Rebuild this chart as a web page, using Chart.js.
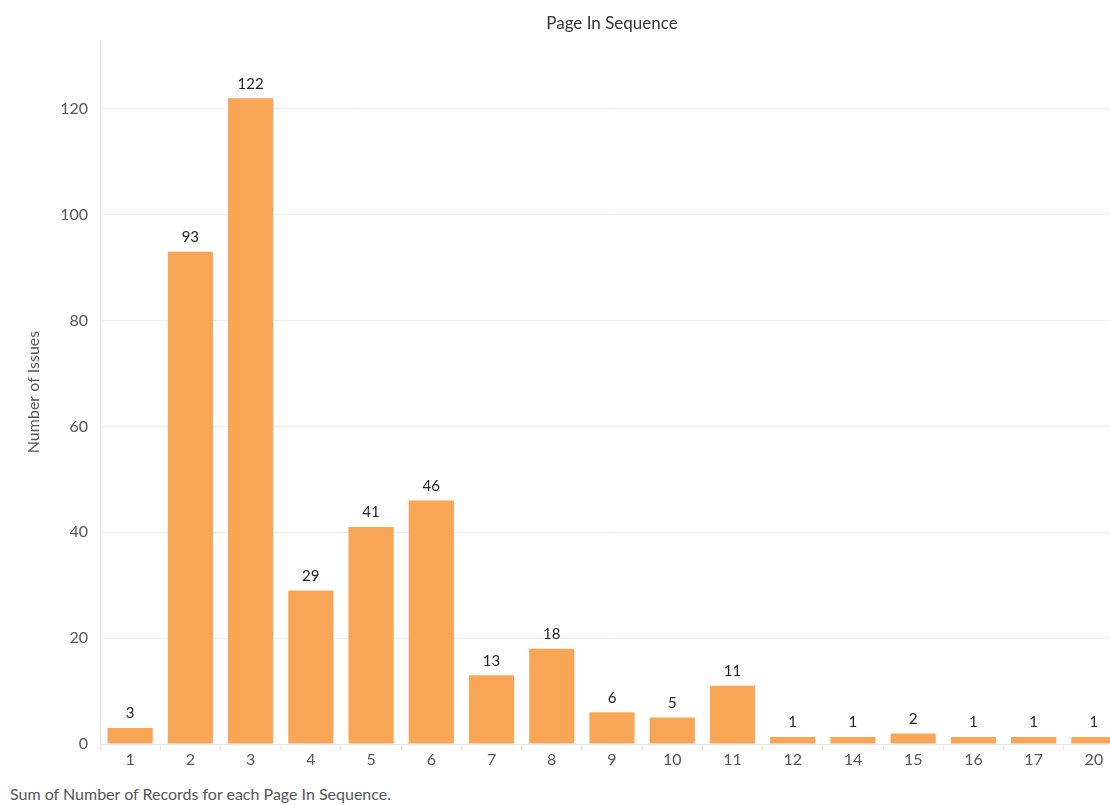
<!DOCTYPE html>
<html>
<head>
<meta charset="utf-8">
<script src="https://cdn.jsdelivr.net/npm/chart.js@4"></script>
<style>
    html, body { margin: 0; padding: 0; background: #fff; overflow: hidden; }
    #wrap { position: relative; width: 1124px; height: 782px; }
    #nota { position: absolute; left: 10px; top: 784px; font: 16px Lato, sans-serif; color: #555; white-space: nowrap; }
</style>
</head>
<body>
<div id="wrap"><canvas id="grafico"></canvas></div>
<div id="nota">Sum of Number of Records for each Page In Sequence.</div>
<script>
// Dados
const pages = ['1', '2', '3', '4', '5', '6', '7', '8', '9', '10', '11', '12', '14', '15', '16', '17', '20'];
const issues = [3, 93, 122, 29, 41, 46, 13, 18, 6, 5, 11, 1, 1, 2, 1, 1, 1];
const yTicks = [0, 20, 40, 60, 80, 100, 120];

const FONT = 'Lato, "Open Sans", sans-serif';

// Título centrado sobre a área do gráfico + valores por cima das barras
const extras = {
    id: 'extras',
    afterDatasetsDraw(chart) {
        const ctx = chart.ctx;
        const area = chart.chartArea;
        ctx.save();
        ctx.fillStyle = '#333';
        ctx.font = '17px ' + FONT;
        ctx.textAlign = 'center';
        ctx.textBaseline = 'middle';
        ctx.fillText('Page In Sequence', (area.left + area.right) / 2, 24);

        ctx.font = '15px ' + FONT;
        ctx.fillStyle = '#222';
        ctx.textBaseline = 'bottom';
        chart.getDatasetMeta(0).data.forEach((bar, i) => {
            ctx.fillText(String(issues[i]), bar.x, bar.y - 7);
        });
        ctx.restore();
    }
};

new Chart(document.getElementById('grafico'), {
    type: 'bar',
    data: {
        labels: pages,
        datasets: [{
            label: 'Number of Issues',
            data: issues,
            backgroundColor: '#f8a655',
            categoryPercentage: 0.75,
            barPercentage: 1,
            minBarLength: 7
        }]
    },
    options: {
        responsive: true,
        maintainAspectRatio: false,
        animation: false,
        layout: { padding: { top: 40, right: 0, bottom: 0, left: 0 } },
        plugins: {
            legend: { display: false },
            tooltip: { enabled: false }
        },
        scales: {
            x: {
                offset: true,
                grid: { display: true, offset: true, drawOnChartArea: false, tickLength: 6, color: '#e6e6e6' },
                border: { color: '#e6e6e6' },
                ticks: { color: '#555', font: { family: FONT, size: 16 }, padding: 0, maxRotation: 0 },
                afterFit(scale) { scale.height = 38; }
            },
            y: {
                min: 0,
                max: 133,
                afterBuildTicks(scale) { scale.ticks = yTicks.map(v => ({ value: v })); },
                grid: { color: '#eeeeee', drawTicks: false },
                border: { color: '#e6e6e6' },
                ticks: { color: '#555', font: { family: FONT, size: 16 }, padding: 12 },
                title: { display: true, text: 'Number of Issues', color: '#555', font: { family: FONT, size: 16 }, padding: { top: 24, bottom: 0 } },
                afterFit(scale) { scale.width = 100; }
            }
        }
    },
    plugins: [extras]
});
</script>
</body>
</html>
